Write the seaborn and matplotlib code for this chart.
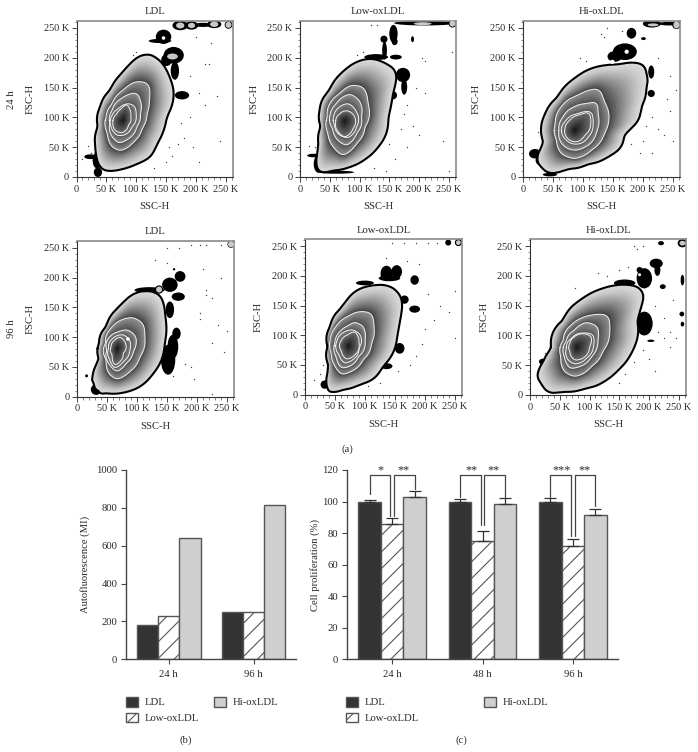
import numpy as np
import pandas as pd
import matplotlib
matplotlib.use('Agg')
import matplotlib.pyplot as plt
from matplotlib.patches import Ellipse, Patch
import seaborn as sns

W, H = 698, 752

# flow panels, all values in thousands (SSC-H, FSC-H)
ldl24_rings = [
    [(115,208),(135,200),(146,188),(157,165),(163,146),(161,123),(151,101),(146,78),(135,56),(124,34),(101,22),(79,14),(51,10),(40,14),(35,28),(32,50),(36,84),(40,118),(57,146),(79,176),(96,196)],
    [(99,160),(121,157),(122,129),(118,106),(110,81),(96,59),(74,44),(60,50),(52,73),(50,101),(60,123),(79,146)],
    [(101,141),(107,129),(107,106),(101,84),(87,64),(71,57),(60,67),(56,90),(60,112),(76,132)],
    [(87,123),(97,119),(100,104),(93,84),(79,70),(68,70),(58,84),(60,104),(71,115)],
    [(84,122),(90,112),(91,101),(87,87),(76,74),(65,78),(61,92),(68,106),(76,115)],
]
ldl24_center = (78, 95)
ldl24_blobs = [(174,254,26,16),(193,254,22,14),(212,255,30,7),(231,256,24,13),(255,255,13,13),(146,235,26,24),(140,228,38,7),
               (163,204,34,28),(151,196,18,20),(165,178,14,30),(177,137,24,14),(23,34,20,8),(35,28,16,28),(36,8,14,16)]
ldl24_holes = [(174,254,14,10),(193,254,12,9),(231,256,14,9),(255,255,10,10),(161,202,18,10)]
ldl24_gaps = [(146,233,6,6)]
ldl24_dots = [(100,210),(95,205),(190,170),(215,190),(205,140),(215,120),(190,100),(175,90),(180,65),(170,55),(155,50),(160,35),(150,25),(130,15),(25,40),(20,52),(10,30),(200,235),(225,225),(222,190),(240,60),(195,50),(235,135),(205,25)]

low24_rings = [
    [(120,199),(145,190),(164,176),(162,162),(156,146),(153,123),(148,101),(145,73),(131,50),(111,31),(84,17),(50,11),(33,5),(27,17),(32,50),(35,84),(33,112),(50,146),(72,176),(95,193)],
    [(86,154),(107,150),(114,123),(109,84),(95,56),(72,36),(56,50),(47,73),(46,101),(50,123),(67,140)],
    [(84,139),(99,129),(103,101),(95,73),(78,53),(64,61),(55,81),(51,106),(61,123)],
    [(81,123),(95,109),(95,84),(81,66),(67,70),(58,87),(57,104),(67,118)],
    [(79,111),(90,104),(89,81),(75,67),(64,76),(60,92),(67,106)],
]
low24_center = (75, 95)
low24_blobs = [(210,258,104,8),(256,257,13,13),(157,240,14,30),(159,227,10,12),(141,231,12,12),(142,212,8,30),(128,201,40,10),(161,201,20,8),
               (173,171,24,24),(175,151,10,26),(156,137,14,14),(23,36,22,6),(31,22,16,30),(61,8,60,5),(189,231,5,10)]
low24_holes = [(206,257,30,5),(256,257,10,10)]
low24_gaps = []
low24_dots = [(120,255),(130,255),(105,210),(95,205),(205,200),(210,195),(255,210),(195,150),(180,120),(175,105),(190,85),(200,70),(170,80),(180,50),(150,55),(160,30),(125,15),(145,10),(25,50),(15,52),(210,140),(240,60),(250,10),(130,100)]

hi24_rings = [
    [(198,197),(209,182),(203,162),(212,147),(201,134),(195,106),(192,90),(170,76),(164,50),(142,34),(109,22),(75,14),(42,6),(22,28),(35,56),(37,106),(58,134),(86,165),(114,182),(148,188),(175,188)],
    [(128,148),(134,129),(143,109),(136,73),(114,45),(86,31),(64,39),(56,62),(54,90),(64,118),(92,137)],
    [(123,126),(125,106),(123,76),(103,50),(84,45),(67,53),(60,78),(67,101),(86,118),(109,123)],
    [(114,109),(117,90),(109,67),(89,55),(72,62),(64,81),(72,95),(92,106)],
    [(110,108),(113,90),(103,70),(89,59),(75,64),(70,81),(78,95),(95,104)],
]
hi24_center = (86, 78)
hi24_blobs = [(215,257,30,13),(245,257,40,6),(256,255,14,14),(181,241,16,18),(201,232,8,5),(170,210,40,28),(153,202,24,18),(214,140,12,12),
              (20,39,20,16),(214,176,10,22),(28,28,14,16),(45,4,24,6)]
hi24_holes = [(217,255,18,5),(256,255,10,12)]
hi24_gaps = [(173,210,7,7),(149,193,8,7)]
hi24_dots = [(130,240),(135,235),(105,195),(95,200),(225,200),(245,170),(255,145),(240,130),(215,100),(205,85),(225,80),(235,70),(200,60),(195,40),(215,40),(180,55),(30,70),(25,75),(245,110),(250,60),(165,245),(140,250)]

ldl96_rings = [
    [(96,175),(133,176),(144,162),(146,140),(149,118),(146,90),(141,62),(127,39),(105,17),(82,8),(43,7),(32,3),(26,14),(35,28),(37,62),(37,90),(49,118),(71,151),(88,168)],
    [(94,133),(110,123),(113,101),(105,67),(88,42),(66,29),(53,39),(49,62),(48,90),(57,115),(74,129)],
    [(85,112),(98,101),(94,76),(82,56),(66,42),(55,53),(50,78),(55,101),(69,109)],
    [(77,104),(88,95),(88,78),(77,59),(63,48),(55,62),(53,81),(60,98)],
    [(72,100),(81,90),(77,73),(72,59),(63,53),(59,70),(57,84),(63,95)],
]
ldl96_center = (67, 81)
ldl96_blobs = [(160,84,18,40),(152,62,24,50),(166,106,14,20),(172,202,18,18),(155,188,26,24),(169,168,22,14),(155,146,14,28),(121,179,50,10),
               (137,180,14,14),(16,35,5,5),(162,214,4,4),(257,256,12,12),(32,12,18,18)]
ldl96_holes = [(257,256,10,10),(137,180,10,10)]
ldl96_gaps = [(155,167,4,3),(85,97,6,6)]
ldl96_dots = [(150,250),(170,250),(190,255),(205,255),(215,255),(240,255),(130,230),(150,225),(210,215),(215,180),(215,170),(225,165),(205,140),(205,130),(235,120),(225,90),(245,75),(180,55),(190,50),(160,35),(225,5),(195,30),(250,110),(240,200)]

low96_rings = [
    [(141,184),(154,174),(163,160),(159,132),(154,104),(148,73),(130,48),(116,28),(91,17),(58,8),(47,2),(33,11),(37,25),(40,48),(38,81),(42,115),(63,148),(86,176),(114,184)],
    [(91,140),(111,137),(115,115),(111,87),(97,59),(77,39),(61,34),(50,48),(44,70),(42,92),(52,115),(72,132)],
    [(83,122),(97,115),(100,92),(89,64),(75,48),(61,45),(52,64),(50,87),(58,106),(72,116)],
    [(80,109),(92,101),(90,78),(80,59),(66,53),(57,67),(53,90),(63,104)],
    [(83,106),(90,87),(83,67),(69,60),(61,73),(61,92),(72,101)],
]
low96_center = (72, 82)
low96_blobs = [(136,204,20,26),(153,207,18,22),(141,196,36,10),(183,193,14,16),(183,144,18,12),(166,160,14,14),(158,78,16,18),(33,17,14,14),
               (239,256,10,10),(256,256,12,12),(100,188,30,8),(136,48,20,10)]
low96_holes = [(256,256,8,8)]
low96_gaps = []
low96_dots = [(145,255),(165,255),(185,255),(205,255),(220,255),(135,230),(170,225),(190,220),(205,170),(225,150),(240,140),(215,125),(200,110),(195,85),(185,65),(175,50),(155,40),(30,50),(25,35),(15,25),(250,95),(250,175),(105,15),(125,20)]

hi96_rings = [
    [(175,184),(192,178),(191,154),(178,134),(182,104),(170,70),(148,42),(128,25),(92,11),(53,6),(31,3),(17,22),(10,35),(22,53),(36,78),(56,126),(86,160),(120,178),(148,185)],
    [(103,134),(131,134),(134,109),(122,73),(103,48),(75,31),(58,39),(52,64),(56,92),(70,118),(86,129)],
    [(95,122),(113,115),(114,92),(103,64),(84,48),(67,45),(58,64),(61,90),(75,109)],
    [(89,104),(106,101),(107,84),(95,62),(75,52),(64,59),(61,78),(70,95)],
    [(89,103),(103,98),(100,81),(89,62),(75,59),(67,73),(67,87),(75,98)],
]
hi96_center = (78, 80)
hi96_blobs = [(192,196,26,34),(184,210,10,10),(159,188,36,12),(212,221,22,16),(214,210,10,20),(220,255,10,7),(223,182,10,8),(192,120,28,40),
              (256,255,16,14),(256,193,6,18),(255,136,8,8),(256,119,6,8),(203,91,12,4),(22,56,14,10)]
hi96_holes = [(256,255,10,8)]
hi96_gaps = [(184,202,5,5),(199,179,5,4)]
hi96_dots = [(180,245),(175,250),(190,250),(130,200),(115,205),(75,180),(225,130),(235,105),(215,105),(245,95),(225,95),(235,80),(190,75),(200,60),(210,40),(175,55),(160,35),(150,20),(25,70),(210,150),(240,160),(165,215),(150,210)]

# panel (b)
b_times = ['24 h', '96 h']
b_ldl = [182, 252]
b_low = [228, 250]
b_hi = [642, 816]

# panel (c)
c_times = ['24 h', '48 h', '96 h']
c_ldl = [100, 100, 100]
c_low = [85.5, 75, 72]
c_hi = [103, 98.5, 91.5]
c_ldl_err = [1, 1.5, 2.5]
c_low_err = [4, 6.5, 4.5]
c_hi_err = [4, 3.5, 4]
c_stars_left = ['*', '**', '***']
c_stars_right = ['**', '**', '**']
c_bracket_top = 117
c_bracket_ldl = [105, 103, 103]
c_bracket_low = [91, 85, 78]
c_bracket_hi = [108, 103, 97]

groups = ['LDL', 'Low-oxLDL', 'Hi-oxLDL']
colors = ['#333333', '#ffffff', '#cfcfcf']
edge = '#555555'
ink = '#2b2b2b'

sns.set_theme(style='ticks')
plt.rcParams['font.family'] = ['Liberation Serif', 'DejaVu Serif']
plt.rcParams['hatch.linewidth'] = 0.8
plt.rcParams['hatch.color'] = '#222222'
FS = 7.7

fig = plt.figure(figsize=(W / 100, H / 100), dpi=100)


def axes_px(left, top, right, bottom):
    return fig.add_axes([left / W, 1 - bottom / H, (right - left) / W, (bottom - top) / H])


def resample(poly, center, angles):
    p = np.array(poly, dtype=float) - center
    ang = np.arctan2(p[:, 1], p[:, 0])
    rad = np.hypot(p[:, 0], p[:, 1])
    order = np.argsort(ang)
    r = np.interp(angles, ang[order], rad[order], period=2 * np.pi)
    kernel = np.ones(7) / 7
    r = np.convolve(np.r_[r[-7:], r, r[:7]], kernel, mode='same')[7:-7]
    return r


ramps = [(0.85, 0.22), (0.56, 0.3), (0.55, 0.33), (0.5, 0.35), (0.42, 0.08)]
curves = [1.4, 1, 1, 1, 1]


def flow_panel(box, title, rings, center, blobs, holes, gaps, dots):
    ax = axes_px(*box)
    ax.set_xlim(0, 262)
    ax.set_ylim(0, 262)
    center = np.array(center, dtype=float)
    angles = np.linspace(-np.pi, np.pi, 180, endpoint=False)

    for cx, cy, w, h in blobs:
        ax.add_patch(Ellipse((cx, cy), w, h, fc='black', ec='none', zorder=1))
    for cx, cy, w, h in gaps:
        ax.add_patch(Ellipse((cx, cy), w, h, fc='white', ec='none', zorder=5))
    for cx, cy, w, h in holes:
        ax.add_patch(Ellipse((cx, cy), w, h, fc='#c8c8c8', ec='none', zorder=5))

    radii = [resample(r, center, angles) for r in rings] + [np.zeros_like(angles)]
    xs = np.cos(angles)
    ys = np.sin(angles)
    for i in range(5):
        for t in np.linspace(0, 1, 16):
            r = radii[i] * (1 - t) + radii[i + 1] * t
            g = ramps[i][0] + (ramps[i][1] - ramps[i][0]) * t ** curves[i]
            ax.fill(center[0] + r * xs, center[1] + r * ys, color=str(g), lw=0, zorder=2 + i * 0.1 + t * 0.05)
    for i in range(5):
        r = np.r_[radii[i], radii[i][0]]
        x = center[0] + r * np.r_[xs, xs[0]]
        y = center[1] + r * np.r_[ys, ys[0]]
        if i == 0:
            ax.plot(x, y, color='black', lw=1.5, zorder=3)
        else:
            ax.plot(x, y, color='#f2f2f2', lw=0.7, zorder=3)

    d = pd.DataFrame(dots, columns=['ssc', 'fsc'])
    sns.scatterplot(data=d, x='ssc', y='fsc', ax=ax, s=1, color='#444444', linewidth=0, zorder=1)

    ticks = [0, 50, 100, 150, 200, 250]
    labels = ['0'] + [f'{v} K' for v in ticks[1:]]
    for axis in (ax.xaxis, ax.yaxis):
        axis.set_ticks(ticks)
        axis.set_ticklabels(labels)
        axis.set_ticks(np.arange(0, 261, 10), minor=True)
    ax.tick_params(which='major', length=3.5, width=0.7, color='#444444', labelsize=FS - 0.3, labelcolor=ink, pad=2)
    ax.tick_params(which='minor', length=1.8, width=0.5, color='#555555')
    for s in ('left', 'bottom'):
        ax.spines[s].set_color('#333333')
        ax.spines[s].set_linewidth(0.8)
    for s in ('top', 'right'):
        ax.spines[s].set_visible(True)
        ax.spines[s].set_color('#8a8a8a')
        ax.spines[s].set_linewidth(1.2)
    ax.set_title(title, fontsize=FS, color=ink, pad=4.5)
    ax.set_xlabel('SSC-H', fontsize=FS, color=ink)
    ax.set_ylabel('FSC-H', fontsize=FS, color=ink)
    ax.xaxis.set_label_coords(0.5, -25 / 156)
    ax.yaxis.set_label_coords(-42 / 157, 0.5)
    return ax


flow_panel((76.5, 20.7, 232.7, 177), 'LDL', ldl24_rings, ldl24_center, ldl24_blobs, ldl24_holes, ldl24_gaps, ldl24_dots)
flow_panel((300, 20.7, 456, 177), 'Low-oxLDL', low24_rings, low24_center, low24_blobs, low24_holes, low24_gaps, low24_dots)
flow_panel((523, 20.7, 680, 177), 'Hi-oxLDL', hi24_rings, hi24_center, hi24_blobs, hi24_holes, hi24_gaps, hi24_dots)
flow_panel((77, 240.7, 234, 396.7), 'LDL', ldl96_rings, ldl96_center, ldl96_blobs, ldl96_holes, ldl96_gaps, ldl96_dots)
flow_panel((305, 239, 462, 394.7), 'Low-oxLDL', low96_rings, low96_center, low96_blobs, low96_holes, low96_gaps, low96_dots)
flow_panel((530, 239, 686, 395), 'Hi-oxLDL', hi96_rings, hi96_center, hi96_blobs, hi96_holes, hi96_gaps, hi96_dots)

fig.text(12 / W, 1 - 100 / H, '24 h', rotation=90, ha='center', va='center', fontsize=FS, color=ink)
fig.text(12 / W, 1 - 329 / H, '96 h', rotation=90, ha='center', va='center', fontsize=FS, color=ink)


def bar_panel(box, times, series, ymax, yticks, ylabel):
    ax = axes_px(*box)
    df = pd.DataFrame({
        'time': times * 3,
        'group': [g for g in groups for _ in times],
        'value': series[0] + series[1] + series[2],
    })
    sns.barplot(data=df, x='time', y='value', hue='group', order=times, hue_order=groups, palette=colors,
                width=0.75, gap=0, saturation=1, edgecolor=edge, linewidth=1, ax=ax, legend=False)
    for bar in ax.containers[1]:
        bar.set_hatch('//')
    ax.set_xlim(-0.5, len(times) - 0.5)
    ax.set_ylim(0, ymax)
    ax.set_yticks(yticks)
    ax.tick_params(length=3.5, width=0.8, color='#444444', labelsize=FS, labelcolor=ink, pad=3)
    ax.tick_params(axis='x', pad=4)
    sns.despine(ax=ax)
    for s in ('left', 'bottom'):
        ax.spines[s].set_color('#444444')
        ax.spines[s].set_linewidth(1)
    ax.set_xlabel('')
    ax.set_ylabel(ylabel, fontsize=FS, color=ink)
    return ax


def legend_for(ax, anchor, spacing):
    handles = [Patch(fc=c, ec=edge, hatch='//' if c == '#ffffff' else None, lw=1, label=g)
               for c, g in zip(colors, groups)]
    ax.legend(handles=handles, ncol=2, frameon=False, loc='upper left', bbox_to_anchor=anchor,
              bbox_transform=fig.transFigure, fontsize=FS, labelcolor=ink, handlelength=1.12, handleheight=1.0,
              handletextpad=0.62, columnspacing=spacing, labelspacing=0.5, borderpad=0, borderaxespad=0)


ax_b = bar_panel((126.3, 470, 296, 659.3), b_times, [b_ldl, b_low, b_hi], 1000, range(0, 1001, 200), 'Autofluorescence (MI)')
ax_b.yaxis.set_label_coords(-36 / 170, 0.5)
legend_for(ax_b, (126 / W, 1 - 697 / H), 1.4)

ax_c = bar_panel((347, 470, 618, 659.3), c_times, [c_ldl, c_low, c_hi], 120, range(0, 121, 20), 'Cell proliferation (%)')
ax_c.yaxis.set_label_coords(-27 / 271, 0.5)
legend_for(ax_c, (346 / W, 1 - 697 / H), 6.1)

# error bars and brackets on (c), placed from the bars seaborn drew
low_bars = ax_c.containers[1]
for cont, vals, errs in zip(ax_c.containers, [c_ldl, c_low, c_hi], [c_ldl_err, c_low_err, c_hi_err]):
    x = [b.get_x() + b.get_width() / 2 for b in cont]
    ax_c.errorbar(x, vals, yerr=[[0] * len(vals), errs], fmt='none', ecolor='#333333', elinewidth=0.9, capsize=4, capthick=0.9, zorder=4)
for i in range(3):
    x0 = ax_c.containers[0][i].get_x() + ax_c.containers[0][i].get_width() / 2
    xm = low_bars[i].get_x() + low_bars[i].get_width() / 2
    x2 = ax_c.containers[2][i].get_x() + ax_c.containers[2][i].get_width() / 2
    ax_c.plot([x0, x0, xm - 0.02, xm - 0.02], [c_bracket_ldl[i], c_bracket_top, c_bracket_top, c_bracket_low[i]], color='#444444', lw=0.9, zorder=5)
    ax_c.plot([xm + 0.02, xm + 0.02, x2, x2], [c_bracket_low[i], c_bracket_top, c_bracket_top, c_bracket_hi[i]], color='#444444', lw=0.9, zorder=5)
    ax_c.text((x0 + xm) / 2, 116.2, c_stars_left[i], ha='center', va='bottom', fontsize=FS + 1, color=ink, clip_on=False)
    ax_c.text((xm + x2) / 2, 116.2, c_stars_right[i], ha='center', va='bottom', fontsize=FS + 1, color=ink, clip_on=False)

fig.text(347 / W, 1 - 449 / H, '(a)', ha='center', va='center', fontsize=FS, color=ink)
fig.text(186 / W, 1 - 740 / H, '(b)', ha='center', va='center', fontsize=FS, color=ink)
fig.text(461 / W, 1 - 740 / H, '(c)', ha='center', va='center', fontsize=FS, color=ink)

fig.savefig('out.png', dpi=100)
